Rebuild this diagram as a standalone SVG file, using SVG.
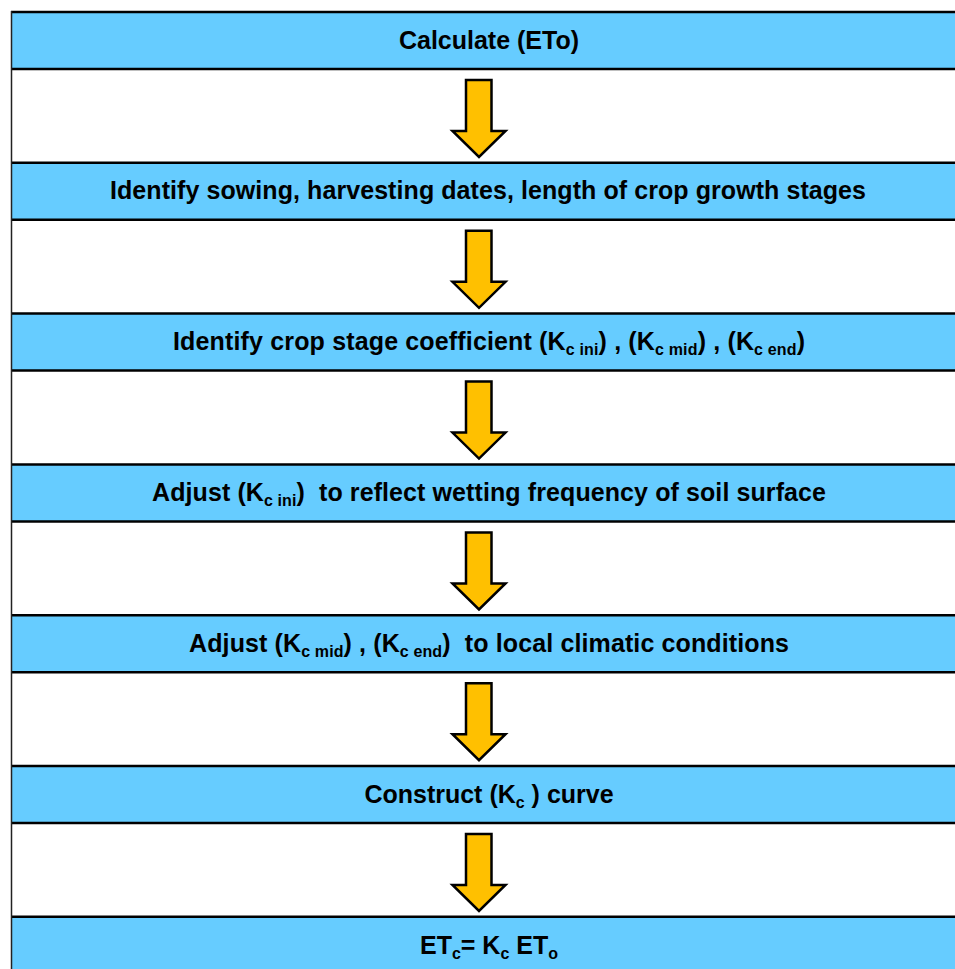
<svg xmlns="http://www.w3.org/2000/svg" width="955" height="969" viewBox="0 0 955 969">
  <style>
    .row { fill: #66CCFF; }
    .rule { stroke: #000; stroke-width: 2.5; }
    .lbl { font-family: "Liberation Sans", Arial, sans-serif; font-weight: bold; font-size: 25px; fill: #000; text-anchor: middle; white-space: pre; }
    .sub { font-size: 16px; }
    .arrow { fill: #FFC000; stroke: #000; stroke-width: 2.5; stroke-linejoin: miter; }
  </style>
  <defs>
    <path id="down" class="arrow" d="M466,80 H491.5 V131 H505.5 L479,157 L452.5,131 H466 Z"/>
  </defs>
  <rect x="0" y="0" width="955" height="969" fill="#fff"/>

  <g id="step1">
    <rect class="row" x="11" y="12" width="960" height="57"/>
    <text class="lbl" x="489" y="49">Calculate (ETo)</text>
  </g>
  <g id="step2">
    <rect class="row" x="11" y="162.8" width="960" height="57"/>
    <text class="lbl" x="488" y="199" textLength="756" lengthAdjust="spacing">Identify sowing, harvesting dates, length of crop growth stages</text>
  </g>
  <g id="step3">
    <rect class="row" x="11" y="313.6" width="960" height="57"/>
    <text class="lbl" x="489" y="350" textLength="632" lengthAdjust="spacing">Identify crop stage coefficient (K<tspan class="sub" dy="5">c ini</tspan><tspan dy="-5">) , (K</tspan><tspan class="sub" dy="5">c mid</tspan><tspan dy="-5">) , (K</tspan><tspan class="sub" dy="5">c end</tspan><tspan dy="-5">)</tspan></text>
  </g>
  <g id="step4">
    <rect class="row" x="11" y="464.4" width="960" height="57"/>
    <text class="lbl" x="489" y="501" textLength="674" lengthAdjust="spacing">Adjust (K<tspan class="sub" dy="5">c ini</tspan><tspan dy="-5">)  to reflect wetting frequency of soil surface</tspan></text>
  </g>
  <g id="step5">
    <rect class="row" x="11" y="615.2" width="960" height="57"/>
    <text class="lbl" x="489" y="652" textLength="600" lengthAdjust="spacing">Adjust (K<tspan class="sub" dy="5">c mid</tspan><tspan dy="-5">) , (K</tspan><tspan class="sub" dy="5">c end</tspan><tspan dy="-5">)  to local climatic conditions</tspan></text>
  </g>
  <g id="step6">
    <rect class="row" x="11" y="766" width="960" height="57"/>
    <text class="lbl" x="489" y="803">Construct (K<tspan class="sub" dy="5">c</tspan><tspan dy="-5"> ) curve</tspan></text>
  </g>
  <g id="step7">
    <rect class="row" x="11" y="916.8" width="960" height="60"/>
    <text class="lbl" x="489" y="954">ET<tspan class="sub" dy="5">c</tspan><tspan dy="-5">= K</tspan><tspan class="sub" dy="5">c</tspan><tspan dy="-5"> ET</tspan><tspan class="sub" dy="5">o</tspan></text>
  </g>

  <g id="connectors">
    <use href="#down"/>
    <use href="#down" y="150.8"/>
    <use href="#down" y="301.6"/>
    <use href="#down" y="452.4"/>
    <use href="#down" y="603.2"/>
    <use href="#down" y="754"/>
  </g>

  <g id="grid">
    <line class="rule" x1="11" y1="12" x2="955" y2="12"/>
    <line class="rule" x1="11" y1="69" x2="955" y2="69"/>
    <line class="rule" x1="11" y1="162.8" x2="955" y2="162.8"/>
    <line class="rule" x1="11" y1="219.8" x2="955" y2="219.8"/>
    <line class="rule" x1="11" y1="313.6" x2="955" y2="313.6"/>
    <line class="rule" x1="11" y1="370.6" x2="955" y2="370.6"/>
    <line class="rule" x1="11" y1="464.4" x2="955" y2="464.4"/>
    <line class="rule" x1="11" y1="521.4" x2="955" y2="521.4"/>
    <line class="rule" x1="11" y1="615.2" x2="955" y2="615.2"/>
    <line class="rule" x1="11" y1="672.2" x2="955" y2="672.2"/>
    <line class="rule" x1="11" y1="766" x2="955" y2="766"/>
    <line class="rule" x1="11" y1="823" x2="955" y2="823"/>
    <line class="rule" x1="11" y1="916.8" x2="955" y2="916.8"/>
    <line x1="11.5" y1="11" x2="11.5" y2="969" stroke="#222" stroke-width="1.5"/>
  </g>
</svg>
